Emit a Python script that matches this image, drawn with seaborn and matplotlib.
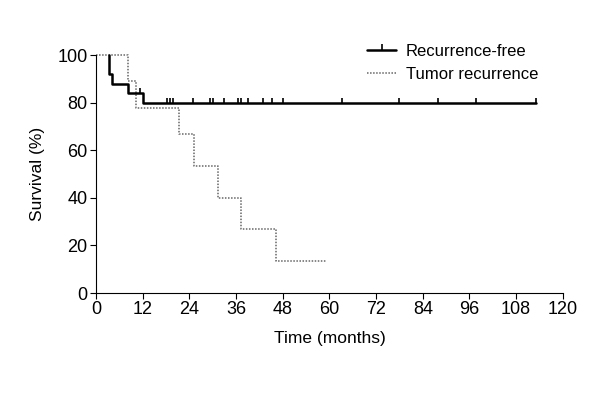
import numpy as np
import pandas as pd
import matplotlib
matplotlib.use("Agg")
import matplotlib.pyplot as plt
import seaborn as sns
from matplotlib.lines import Line2D

# Curvas Kaplan-Meier
rf_time = [3.3, 3.3, 4.0, 8.3, 12.0, 113.0]
rf_surv = [100, 92, 88, 84, 80, 80]
rf_cens_time = [11.3, 18.2, 19.0, 19.8, 25.0, 29.2, 30.0, 33.0, 36.5, 37.2,
                39.0, 43.0, 45.2, 48.1, 63.2, 78.0, 88.0, 97.8, 113.0]
rf_cens_surv = [84] + [80] * 18

tr_time = [0, 8.1, 10.2, 21.3, 25.3, 31.3, 37.3, 46.3, 59.0]
tr_surv = [100, 88.9, 77.8, 66.7, 53.3, 40.0, 26.7, 13.3, 13.3]

x_ticks = [0, 12, 24, 36, 48, 60, 72, 84, 96, 108, 120]
y_ticks = [0, 20, 40, 60, 80, 100]

sns.set_style("ticks")
plt.rcParams['font.family'] = ['Liberation Sans', 'DejaVu Sans']
plt.rcParams['text.color'] = 'black'
plt.rcParams['axes.labelcolor'] = 'black'
plt.rcParams['xtick.color'] = 'black'
plt.rcParams['ytick.color'] = 'black'
plt.rcParams['axes.edgecolor'] = 'black'

fig = plt.figure(figsize=(6, 4), dpi=100)
ax = fig.add_axes([0.16, 0.2675, 0.778, 0.595])

sns.lineplot(x=tr_time, y=tr_surv, ax=ax, estimator=None, sort=False,
             drawstyle='steps-post', color='#666666', linestyle=(0, (1, 1)),
             linewidth=1.1, clip_on=False)
sns.lineplot(x=rf_time, y=rf_surv, ax=ax, estimator=None, sort=False,
             drawstyle='steps-post', color='black', linewidth=1.8,
             clip_on=False)
sns.scatterplot(x=rf_cens_time, y=rf_cens_surv, ax=ax, marker=2, color='black',
                s=12, linewidth=1.2, clip_on=False)

ax.set_xlim(0, 120)
ax.set_ylim(0, 100)
ax.set_xticks(x_ticks)
ax.set_yticks(y_ticks)
ax.tick_params(labelsize=13, length=4, width=0.8, pad=2)
ax.set_xlabel('Time (months)', fontsize=12.5, labelpad=9)
ax.set_ylabel('Survival (%)', fontsize=12.5, labelpad=9)
sns.despine(ax=ax)
for s in ['left', 'bottom']:
    ax.spines[s].set_linewidth(0.8)

handles = [
    Line2D([], [], color='black', linewidth=1.8, marker=2, markersize=4,
           markevery=[1], markeredgewidth=1.2),
    Line2D([], [], color='#666666', linestyle=(0, (1, 1)), linewidth=1.1),
]
ax.legend(handles, ['Recurrence-free', 'Tumor recurrence'], frameon=False,
          fontsize=12, loc='upper left', bbox_to_anchor=(0.567, 1.075),
          handlelength=1.7, handletextpad=0.6, labelspacing=0.5,
          borderaxespad=0)

fig.savefig('out.png', dpi=100)
